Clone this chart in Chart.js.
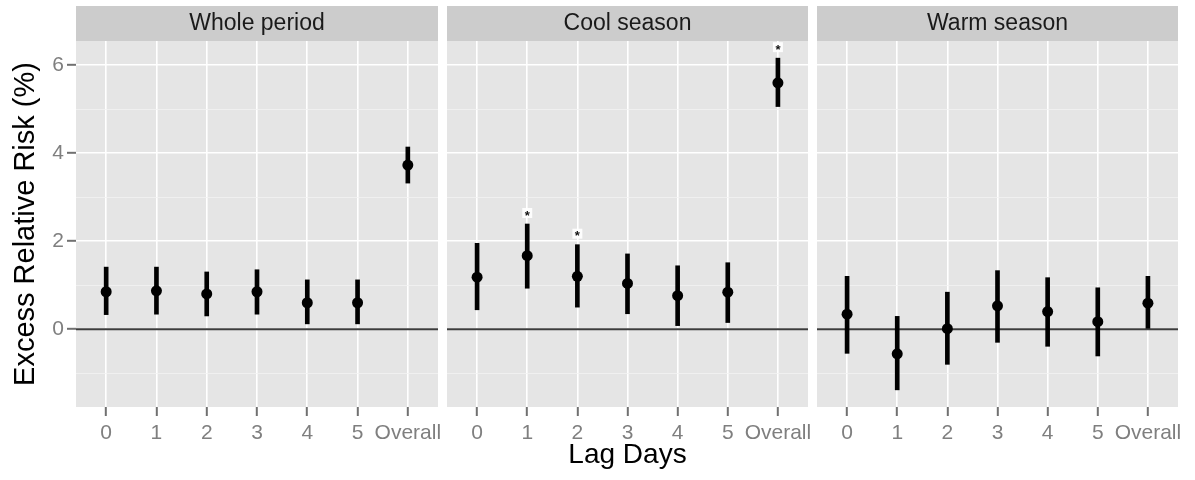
<!DOCTYPE html>
<html>
<head>
<meta charset="utf-8">
<title>Excess relative risk by lag day</title>
<script src="https://cdn.jsdelivr.net/npm/chart.js@4.4.1/dist/chart.umd.min.js"></script>
<style>
  html, body { margin: 0; padding: 0; background: #ffffff; }
  #figure { position: relative; width: 1195px; height: 480px; overflow: hidden; }
  #figure canvas { position: absolute; top: 0; }
</style>
</head>
<body>
<div id="figure">
  <canvas id="panel-whole"></canvas>
  <canvas id="panel-cool"></canvas>
  <canvas id="panel-warm"></canvas>
</div>
<script>
// Lag categories on the x axis
const lagLabels = ['0', '1', '2', '3', '4', '5', 'Overall'];

// Excess relative risk (%) with 95% CI, whole period
const wholeEstimate = [0.85, 0.87, 0.80, 0.85, 0.60, 0.60, 3.73];
const wholeLower    = [0.33, 0.34, 0.30, 0.34, 0.12, 0.12, 3.32];
const wholeUpper    = [1.41, 1.41, 1.30, 1.35, 1.12, 1.12, 4.14];
const wholeSignif   = [false, false, false, false, false, false, false];

// Cool season
const coolEstimate = [1.18, 1.67, 1.20, 1.04, 0.76, 0.84, 5.60];
const coolLower    = [0.44, 0.93, 0.50, 0.35, 0.08, 0.15, 5.06];
const coolUpper    = [1.95, 2.39, 1.92, 1.71, 1.44, 1.51, 6.16];
const coolSignif   = [false, true, true, false, false, false, true];

// Warm season
const warmEstimate = [0.34, -0.56, 0.01, 0.53, 0.40, 0.17, 0.59];
const warmLower    = [-0.55, -1.38, -0.80, -0.30, -0.39, -0.61, 0.00];
const warmUpper    = [1.20, 0.29, 0.84, 1.33, 1.17, 0.94, 1.20];
const warmSignif   = [false, false, false, false, false, false, false];

// y axis: majors are labelled, odd values are minor grid lines only
const yTickValues = [-1, 0, 1, 2, 3, 4, 5, 6];
const yLimits = [-1.77, 6.55];
const referenceValue = 0;

const FONT = '"Liberation Sans", Arial, Helvetica, sans-serif';
const TEXT_GREY = '#7f7f7f';
const TICK_GREY = '#707070';

// Grey panel and strip behind each facet
const facetBackground = {
    id: 'facetBackground',
    beforeDraw(chart) {
        const { ctx, chartArea } = chart;
        ctx.save();
        ctx.fillStyle = '#cccccc';
        ctx.fillRect(chartArea.left, chartArea.top - 35, chartArea.width, 35);
        ctx.fillStyle = '#e5e5e5';
        ctx.fillRect(chartArea.left, chartArea.top, chartArea.width, chartArea.height);
        ctx.restore();
    }
};

// Horizontal line at zero excess risk
const referenceLine = {
    id: 'referenceLine',
    beforeDatasetsDraw(chart) {
        const { ctx, chartArea, scales } = chart;
        const y = scales.y.getPixelForValue(referenceValue);
        ctx.save();
        ctx.strokeStyle = '#3c3c3c';
        ctx.lineWidth = 2;
        ctx.beginPath();
        ctx.moveTo(chartArea.left, y);
        ctx.lineTo(chartArea.right, y);
        ctx.stroke();
        ctx.restore();
    }
};

// Asterisk above significant estimates
const significanceMarks = {
    id: 'significanceMarks',
    afterDatasetsDraw(chart, args, opts) {
        const flags = opts.flags || [];
        const upper = opts.upper || [];
        const { ctx, scales } = chart;
        ctx.save();
        flags.forEach((flag, i) => {
            if (!flag) return;
            const x = scales.x.getPixelForValue(i);
            const y = scales.y.getPixelForValue(upper[i] + 0.25);
            ctx.fillStyle = 'rgba(255, 255, 255, 0.9)';
            ctx.fillRect(x - 5, y - 5, 10, 10);
            ctx.fillStyle = '#111111';
            ctx.font = 'bold 13px ' + FONT;
            ctx.textAlign = 'center';
            ctx.textBaseline = 'middle';
            ctx.fillText('*', x, y + 3);
        });
        ctx.restore();
    }
};

const isMinor = (ctx) => ctx.tick && Math.abs(ctx.tick.value % 2) === 1;

function buildFacet(canvasId, facet) {
    const canvas = document.getElementById(canvasId);
    canvas.width = facet.width;
    canvas.height = 480;
    canvas.style.left = facet.left + 'px';

    const points = facet.estimate.map((v, i) => ({ x: i, y: v }));
    const intervals = facet.lower.map((lo, i) => ({ x: i, y: [lo, facet.upper[i]] }));

    return new Chart(canvas, {
        type: 'bar',
        data: {
            datasets: [
                {
                    type: 'scatter',
                    data: points,
                    pointRadius: 5.5,
                    pointHoverRadius: 5.5,
                    backgroundColor: '#000000',
                    borderWidth: 0,
                    order: 0
                },
                {
                    type: 'bar',
                    data: intervals,
                    barThickness: 4,
                    backgroundColor: '#000000',
                    borderWidth: 0,
                    order: 1
                }
            ]
        },
        options: {
            responsive: false,
            animation: false,
            events: [],
            layout: {
                padding: { top: 6, bottom: 0, left: facet.padLeft, right: facet.padRight }
            },
            plugins: {
                legend: { display: false },
                tooltip: { enabled: false },
                title: {
                    display: true,
                    text: facet.title,
                    fullSize: false,
                    color: '#1a1a1a',
                    font: { family: FONT, size: 23, weight: 'normal', lineHeight: 1.2 },
                    padding: { top: 3.7, bottom: 3.7 }
                },
                significanceMarks: { flags: facet.signif, upper: facet.upper }
            },
            scales: {
                x: {
                    type: 'linear',
                    min: -0.6,
                    max: 6.6,
                    offset: false,
                    afterBuildTicks: (scale) => {
                        scale.ticks = lagLabels.map((_, i) => ({ value: i }));
                    },
                    afterFit: (scale) => { scale.height = 73; },
                    ticks: {
                        callback: (value) => lagLabels[value],
                        color: TEXT_GREY,
                        font: { family: FONT, size: 21 },
                        padding: 5,
                        maxRotation: 0,
                        autoSkip: false
                    },
                    grid: {
                        offset: false,
                        drawTicks: true,
                        color: '#ffffff',
                        lineWidth: 1.6,
                        tickColor: TICK_GREY,
                        tickWidth: 2,
                        tickLength: 9
                    },
                    border: { display: false },
                    title: {
                        display: facet.xTitle,
                        text: 'Lag Days',
                        color: '#000000',
                        font: { family: FONT, size: 28, lineHeight: 1.2 },
                        padding: { top: 0, bottom: 8 }
                    }
                },
                y: {
                    type: 'linear',
                    min: yLimits[0],
                    max: yLimits[1],
                    afterBuildTicks: (scale) => {
                        scale.ticks = yTickValues.map(v => ({ value: v }));
                    },
                    afterFit: (scale) => { scale.width = facet.yAxis ? 76 : 0; },
                    ticks: {
                        display: facet.yAxis,
                        callback: (value) => (value % 2 === 0 ? String(value) : ''),
                        color: TEXT_GREY,
                        font: { family: FONT, size: 21 },
                        padding: 3
                    },
                    grid: {
                        color: (ctx) => (isMinor(ctx) ? '#f2f2f2' : '#ffffff'),
                        lineWidth: (ctx) => (isMinor(ctx) ? 0.8 : 1.6),
                        drawTicks: facet.yAxis,
                        tickColor: (ctx) => (isMinor(ctx) ? 'rgba(0,0,0,0)' : TICK_GREY),
                        tickWidth: 2,
                        tickLength: 9
                    },
                    border: { display: false },
                    title: {
                        display: facet.yAxis,
                        text: 'Excess Relative Risk (%)',
                        color: '#000000',
                        font: { family: FONT, size: 29, lineHeight: 1.2 },
                        padding: { top: 9, bottom: 0 }
                    }
                }
            }
        },
        plugins: [facetBackground, referenceLine, significanceMarks]
    });
}

document.addEventListener('DOMContentLoaded', () => {
    buildFacet('panel-whole', {
        title: 'Whole period', estimate: wholeEstimate, lower: wholeLower, upper: wholeUpper,
        signif: wholeSignif, left: 0, width: 448, padLeft: 0, padRight: 10, yAxis: true, xTitle: false
    });
    buildFacet('panel-cool', {
        title: 'Cool season', estimate: coolEstimate, lower: coolLower, upper: coolUpper,
        signif: coolSignif, left: 437, width: 381, padLeft: 10, padRight: 10, yAxis: false, xTitle: true
    });
    buildFacet('panel-warm', {
        title: 'Warm season', estimate: warmEstimate, lower: warmLower, upper: warmUpper,
        signif: warmSignif, left: 807, width: 381, padLeft: 10, padRight: 10, yAxis: false, xTitle: false
    });
});
</script>
</body>
</html>
